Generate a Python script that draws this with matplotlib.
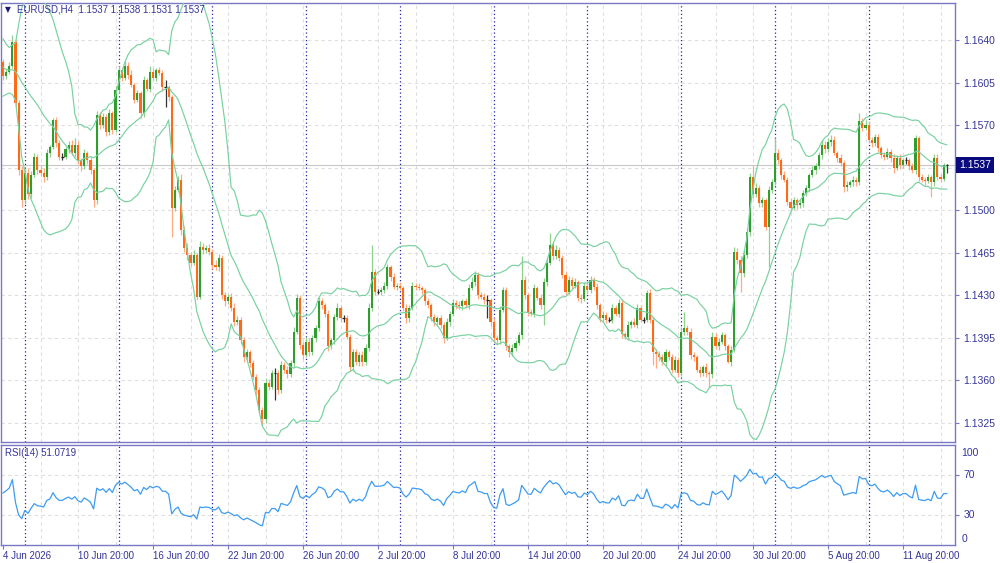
import numpy as np
import pandas as pd
import matplotlib
matplotlib.use("Agg")
import matplotlib.pyplot as plt
import matplotlib.transforms as mtransforms

# Cours de cloture H4 (4 juin 20:00 -> 13 aout)
closes = [
    1.1610, 1.1614, 1.1619, 1.1638, 1.1588, 1.1533, 1.1508, 1.1531, 1.1513, 1.1529,
    1.1544, 1.1533, 1.1531, 1.1527, 1.1547, 1.1552, 1.1574, 1.1555, 1.1544, 1.1544,
    1.1550, 1.1554, 1.1547, 1.1554, 1.1541, 1.1536, 1.1547, 1.1541, 1.1533, 1.1508,
    1.1578, 1.1570, 1.1577, 1.1564, 1.1580, 1.1566, 1.1599, 1.1615, 1.1609, 1.1619,
    1.1611, 1.1603, 1.1591, 1.1596, 1.1580, 1.1607, 1.1600, 1.1614, 1.1609, 1.1615,
    1.1613, 1.1601, 1.1601, 1.1593, 1.1502, 1.1517, 1.1525, 1.1484, 1.1469, 1.1463,
    1.1457, 1.1463, 1.1429, 1.1470, 1.1467, 1.1469, 1.1466, 1.1455, 1.1453, 1.1461,
    1.1430, 1.1425, 1.1429, 1.1420, 1.1408, 1.1410, 1.1393, 1.1379, 1.1383, 1.1374,
    1.1363, 1.1352, 1.1336, 1.1328, 1.1358, 1.1355, 1.1366, 1.1366, 1.1352, 1.1373,
    1.1369, 1.1365, 1.1374, 1.1400, 1.1428, 1.1389, 1.1381, 1.1392, 1.1383, 1.1395,
    1.1403, 1.1425, 1.1422, 1.1415, 1.1388, 1.1393, 1.1412, 1.1420, 1.1411, 1.1411,
    1.1396, 1.1371, 1.1383, 1.1375, 1.1381, 1.1375, 1.1387, 1.1420, 1.1449, 1.1433,
    1.1433, 1.1434, 1.1438, 1.1453, 1.1445, 1.1437, 1.1438, 1.1436, 1.1420, 1.1411,
    1.1420, 1.1438, 1.1437, 1.1436, 1.1434, 1.1425, 1.1422, 1.1412, 1.1408, 1.1411,
    1.1406, 1.1395, 1.1408, 1.1415, 1.1424, 1.1422, 1.1421, 1.1425, 1.1422, 1.1436,
    1.1441, 1.1447, 1.1430, 1.1429, 1.1426, 1.1426, 1.1408, 1.1395, 1.1393, 1.1418,
    1.1434, 1.1388, 1.1383, 1.1387, 1.1391, 1.1397, 1.1443, 1.1430, 1.1416, 1.1415,
    1.1436, 1.1428, 1.1422, 1.1441, 1.1457, 1.1471, 1.1462, 1.1467, 1.1461, 1.1447,
    1.1433, 1.1443, 1.1438, 1.1441, 1.1428, 1.1427, 1.1438, 1.1434, 1.1443, 1.1437,
    1.1422, 1.1411, 1.1414, 1.1410, 1.1410, 1.1420, 1.1415, 1.1424, 1.1398, 1.1396,
    1.1406, 1.1408, 1.1406, 1.1420, 1.1410, 1.1410, 1.1432, 1.1410, 1.1383, 1.1382,
    1.1379, 1.1375, 1.1383, 1.1379, 1.1369, 1.1377, 1.1366, 1.1400, 1.1403, 1.1400,
    1.1381, 1.1379, 1.1369, 1.1366, 1.1371, 1.1366, 1.1365, 1.1396, 1.1388, 1.1392,
    1.1397, 1.1388, 1.1375, 1.1385, 1.1466, 1.1459, 1.1448, 1.1463, 1.1482, 1.1527,
    1.1513, 1.1518, 1.1506, 1.1508, 1.1486, 1.1517, 1.1523, 1.1547, 1.1541, 1.1529,
    1.1525, 1.1507, 1.1502, 1.1508, 1.1504, 1.1506, 1.1514, 1.1518, 1.1529, 1.1533,
    1.1536, 1.1545, 1.1554, 1.1550, 1.1556, 1.1558, 1.1547, 1.1543, 1.1539, 1.1519,
    1.1521, 1.1523, 1.1525, 1.1523, 1.1573, 1.1568, 1.1570, 1.1558, 1.1555, 1.1560,
    1.1551, 1.1545, 1.1544, 1.1548, 1.1543, 1.1535, 1.1543, 1.1537, 1.1541, 1.1541,
    1.1536, 1.1533, 1.1559, 1.1527, 1.1525, 1.1524, 1.1527, 1.1523, 1.1543, 1.1527,
    1.1526, 1.1537, 1.1537,
]

# Meches (en pips) au-dessus / au-dessous du corps
upper_wick = [
    2, 2, 3, 6, 2, 3, 3, 3, 4, 3,
    3, 2, 3, 4, 3, 2, 2, 3, 3, 3,
    2, 3, 4, 5, 3, 2, 3, 2, 3, 2,
    4, 3, 3, 2, 3, 2, 3, 4, 3, 4,
    3, 4, 2, 3, 2, 3, 2, 5, 3, 2,
    3, 2, 6, 2, 2, 3, 3, 5, 3, 4,
    3, 4, 2, 5, 3, 2, 3, 2, 4, 3,
    2, 3, 2, 3, 4, 3, 2, 3, 3, 2,
    3, 2, 3, 2, 4, 3, 3, 4, 3, 3,
    2, 3, 3, 4, 3, 2, 3, 4, 3, 2,
    3, 4, 3, 2, 3, 2, 3, 4, 2, 3,
    3, 2, 3, 3, 2, 3, 3, 4, 22, 3,
    2, 3, 3, 3, 2, 3, 2, 3, 2, 3,
    2, 3, 2, 3, 2, 2, 3, 2, 3, 2,
    3, 2, 3, 2, 3, 2, 3, 2, 3, 3,
    4, 3, 2, 3, 3, 4, 2, 3, 2, 3,
    3, 3, 2, 3, 2, 3, 19, 3, 2, 3,
    3, 2, 3, 3, 4, 10, 3, 4, 3, 2,
    3, 3, 2, 3, 2, 3, 3, 2, 3, 2,
    3, 2, 3, 2, 2, 3, 2, 3, 3, 2,
    3, 2, 3, 3, 2, 2, 2, 3, 2, 3,
    2, 3, 3, 2, 3, 3, 2, 4, 13, 3,
    3, 2, 2, 3, 2, 3, 2, 4, 3, 3,
    3, 2, 2, 3, 4, 3, 3, 4, 3, 4,
    9, 4, 3, 3, 2, 3, 3, 12, 3, 2,
    3, 2, 3, 3, 2, 3, 3, 3, 2, 3,
    3, 3, 4, 3, 3, 4, 3, 2, 3, 2,
    3, 2, 3, 2, 7, 3, 4, 3, 2, 3,
    3, 2, 3, 3, 2, 3, 2, 3, 2, 3,
    2, 3, 3, 2, 3, 2, 3, 2, 3, 3,
    3, 2, 1,
]
lower_wick = [
    3, 2, 2, 2, 3, 4, 5, 3, 4, 3,
    2, 3, 3, 4, 2, 3, 2, 3, 3, 3,
    2, 3, 2, 3, 3, 4, 2, 3, 3, 5,
    3, 3, 2, 3, 2, 3, 2, 3, 3, 2,
    3, 2, 3, 2, 4, 3, 2, 3, 2, 3,
    2, 3, 16, 3, 24, 3, 2, 4, 3, 4,
    3, 2, 3, 2, 3, 2, 3, 3, 2, 3,
    3, 4, 2, 3, 3, 2, 3, 4, 3, 3,
    3, 4, 3, 5, 3, 3, 2, 22, 3, 2,
    3, 3, 2, 3, 2, 3, 3, 2, 3, 2,
    3, 2, 3, 3, 4, 2, 3, 2, 3, 3,
    2, 3, 3, 2, 3, 3, 2, 3, 3, 3,
    2, 3, 2, 3, 3, 2, 3, 2, 3, 4,
    3, 2, 3, 2, 3, 3, 2, 3, 3, 2,
    3, 4, 2, 3, 2, 3, 2, 3, 2, 3,
    2, 3, 3, 2, 3, 15, 3, 3, 4, 3,
    2, 3, 4, 3, 3, 2, 3, 3, 3, 2,
    3, 2, 3, 16, 3, 2, 3, 2, 3, 3,
    3, 2, 3, 2, 3, 3, 2, 3, 2, 3,
    3, 3, 2, 3, 2, 3, 2, 3, 3, 2,
    3, 3, 2, 3, 2, 3, 2, 3, 10, 12,
    3, 2, 3, 2, 3, 2, 3, 2, 3, 3,
    3, 3, 2, 3, 2, 3, 11, 3, 2, 3,
    2, 3, 1, 3, 2, 3, 15, 3, 2, 3,
    3, 2, 3, 3, 2, 33, 3, 2, 3, 3,
    2, 3, 3, 2, 3, 2, 3, 2, 3, 2,
    3, 2, 3, 3, 2, 3, 2, 3, 3, 4,
    3, 2, 3, 3, 2, 3, 2, 3, 3, 2,
    3, 2, 3, 2, 3, 4, 2, 3, 2, 3,
    3, 2, 3, 3, 2, 3, 2, 12, 3, 2,
    3, 2, 6,
]

# Barres precedentes (hors ecran), seulement pour amorcer les indicateurs
warmup_closes = [
    1.1598, 1.1604, 1.1611, 1.1607, 1.1615, 1.1622, 1.1618, 1.1626, 1.1633, 1.1629,
    1.1637, 1.1642, 1.1636, 1.1628, 1.1621, 1.1612, 1.1606, 1.1603, 1.1598, 1.1604,
    1.1610, 1.1605, 1.1612, 1.1617, 1.1613, 1.1620, 1.1627, 1.1633, 1.1628, 1.1622,
]

time_labels = ["4 Jun 2026", "10 Jun 20:00", "16 Jun 20:00", "22 Jun 20:00",
               "26 Jun 20:00", "2 Jul 20:00", "8 Jul 20:00", "14 Jul 20:00",
               "20 Jul 20:00", "24 Jul 20:00", "30 Jul 20:00", "5 Aug 20:00",
               "11 Aug 20:00"]
label_bars = [0, 24, 48, 72, 96, 120, 144, 168, 192, 216, 240, 264, 288]
week_start_bars = [7, 37, 67, 97, 127, 157, 187, 217, 247, 277]
price_ticks = [1.1325, 1.1360, 1.1395, 1.1430, 1.1465, 1.1500, 1.1535, 1.1570, 1.1605, 1.1640]
last_price = 1.1537
header = "EURUSD,H4  1.1537 1.1538 1.1531 1.1537"
rsi_title = "RSI(14) 51.0719"

# Couleurs
BULL, BULL_W = "#2f9e2f", "#8fd08f"
BEAR, BEAR_W = "#ff6a17", "#ffab82"
BAND = "#78d1a0"
RSI_C = "#3d9cf2"
FRAME = "#7878c4"
TXT = "#34349a"
GRID = "#dedede"
SEP = "#2424a0"
FONT = "Liberation Sans"

# Indicateurs
serie = pd.Series(warmup_closes + closes)
mid = serie.rolling(20).mean()
sd = serie.rolling(20).std(ddof=0)
delta = serie.diff()
gain = delta.clip(lower=0).ewm(alpha=1 / 14, adjust=False).mean()
loss = (-delta.clip(upper=0)).ewm(alpha=1 / 14, adjust=False).mean()
rsi = 100 - 100 / (1 + gain / loss)
n = len(closes)
mid = mid.values[-n:]
sd = sd.values[-n:]
rsi = rsi.values[-n:]

c = np.array(closes)
o = np.concatenate([[warmup_closes[-1]], c[:-1]])
h = np.maximum(o, c) + np.array(upper_wick) * 0.0001
l = np.minimum(o, c) - np.array(lower_wick) * 0.0001
x = np.arange(n)
flat = np.isclose(o, c)
up = (c > o) & ~flat
dn = (c < o) & ~flat

fig = plt.figure(figsize=(10, 5.63), dpi=100)
ax = fig.add_axes([0.001, 1 - 442 / 563, 0.954, 439 / 563])
ax2 = fig.add_axes([0.001, 1 - 544.5 / 563, 0.954, 100 / 563])

x0, x1 = -0.64, 304.64
for a in (ax, ax2):
    a.set_xlim(x0, x1)
    for s in a.spines.values():
        s.set_color(FRAME)
        s.set_linewidth(1)
    for g in range(12, n, 12):
        a.axvline(g, color=GRID, lw=0.8, ls=(0, (3, 3)), zorder=0)
    for w in week_start_bars:
        a.axvline(w, color=SEP, lw=0.9, ls=(0, (1, 2)), zorder=1)

# Graphique principal
ax.set_ylim(1.13094, 1.16704)
for p in price_ticks:
    ax.axhline(p, color=GRID, lw=0.8, ls=(0, (3, 3)), zorder=0)
ax.axhline(last_price, color="#c8c8c8", lw=0.8, zorder=0)

ax.vlines(x[up], l[up], h[up], color=BULL_W, lw=0.9, zorder=2)
ax.vlines(x[dn], l[dn], h[dn], color=BEAR_W, lw=0.9, zorder=2)
ax.vlines(x[flat], l[flat], h[flat], color="#333333", lw=0.9, zorder=2)
ax.bar(x[up], c[up] - o[up], bottom=o[up], width=0.68, color=BULL, lw=0, zorder=3)
ax.bar(x[dn], c[dn] - o[dn], bottom=o[dn], width=0.68, color=BEAR, lw=0, zorder=3)
ax.hlines(c[flat], x[flat] - 0.4, x[flat] + 0.4, color="#222222", lw=0.9, zorder=3)

for band in (mid + 2 * sd, mid, mid - 2 * sd):
    ax.plot(x, band, color=BAND, lw=0.85, zorder=4)

ax.set_xticks([])
ax.yaxis.tick_right()
ax.set_yticks(price_ticks)
ax.set_yticklabels(["" if abs(p - 1.1535) < 1e-6 else f"{p:.4f}" for p in price_ticks])
ax.tick_params(axis="y", length=3, color=FRAME, labelcolor=TXT, labelsize=7.5, pad=3)
for t in ax.get_yticklabels():
    t.set_fontfamily(FONT)

trans = mtransforms.blended_transform_factory(ax.transAxes, ax.transData)
ax.text(1.004, last_price, "1.1537", transform=trans, ha="left", va="center",
        fontsize=7.5, family=FONT, color="white", zorder=10,
        bbox=dict(boxstyle="square,pad=0.3", fc="#0a0a80", ec="none"))

fig.text(0.005, 1 - 10 / 563, "\u25bc", fontsize=5.5, color="#1a1a70", va="center")
fig.text(0.017, 1 - 10 / 563, header, fontsize=7, family=FONT, color=TXT, va="center")

# RSI
ax2.set_ylim(0, 100)
for lvl in (30, 70):
    ax2.axhline(lvl, color=GRID, lw=0.8, ls=(0, (3, 3)), zorder=0)
ax2.plot(x, rsi, color=RSI_C, lw=0.9, zorder=3)
ax2.yaxis.tick_right()
ax2.set_yticks([30, 70])
ax2.set_yticklabels(["30", "70"])
ax2.tick_params(axis="y", length=3, color=FRAME, labelcolor=TXT, labelsize=7.5, pad=3)
for t in ax2.get_yticklabels():
    t.set_fontfamily(FONT)
trans2 = mtransforms.blended_transform_factory(ax2.transAxes, ax2.transData)
ax2.text(1.007, 92, "100", transform=trans2, ha="left", va="center", fontsize=7.5,
         family=FONT, color=TXT)
ax2.text(1.007, 6, "0", transform=trans2, ha="left", va="center", fontsize=7.5,
         family=FONT, color=TXT)
ax2.text(0.004, 0.91, rsi_title, transform=ax2.transAxes, ha="left", va="center",
         fontsize=7, family=FONT, color=TXT)

ax2.set_xticks(label_bars)
ax2.set_xticklabels(time_labels)
ax2.tick_params(axis="x", length=3, color=FRAME, labelcolor=TXT, labelsize=7, pad=1.5)
for t in ax2.get_xticklabels():
    t.set_ha("left")
    t.set_fontfamily(FONT)

fig.savefig("out.png", dpi=100, facecolor="white")
